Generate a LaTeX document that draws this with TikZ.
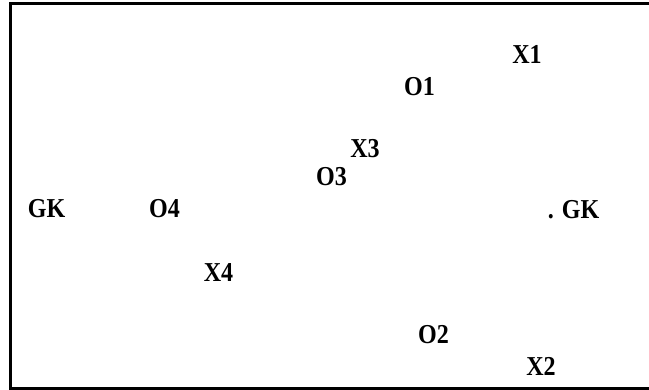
\documentclass[tikz,border=0pt]{standalone}
\usepackage{fontspec}
\setmainfont{Liberation Serif}
\newfontfamily\lblfont[FakeStretch=0.88]{Liberation Serif}
\begin{document}
\begin{tikzpicture}[x=0.75pt,y=-0.75pt,
  lbl/.style={inner sep=0pt,outer sep=0pt,font=\lblfont\fontsize{20.5}{24}\selectfont\bfseries},
  frame/.style={line width=2.25pt,line cap=rect}]
\useasboundingbox (0,0) rectangle (649,389);
\draw[frame] (652,3.5) -- (10.5,3.5) -- (10.5,388.5) -- (652,388.5);
\node[lbl] (x1) at (527,54) {X1};
\node[lbl] (o1) at (419.5,87) {O1};
\node[lbl] (x3) at (365,148.5) {X3};
\node[lbl] (o3) at (331.5,177) {O3};
\node[lbl] (gka) at (46.5,209) {GK};
\node[lbl] (o4) at (164.5,209) {O4};
\node[lbl] (gkb) at (573.5,210) {. GK};
\node[lbl] (x4) at (218.5,272.5) {X4};
\node[lbl] (o2) at (433.5,335) {O2};
\node[lbl] (x2) at (541,366) {X2};
\end{tikzpicture}
\end{document}
